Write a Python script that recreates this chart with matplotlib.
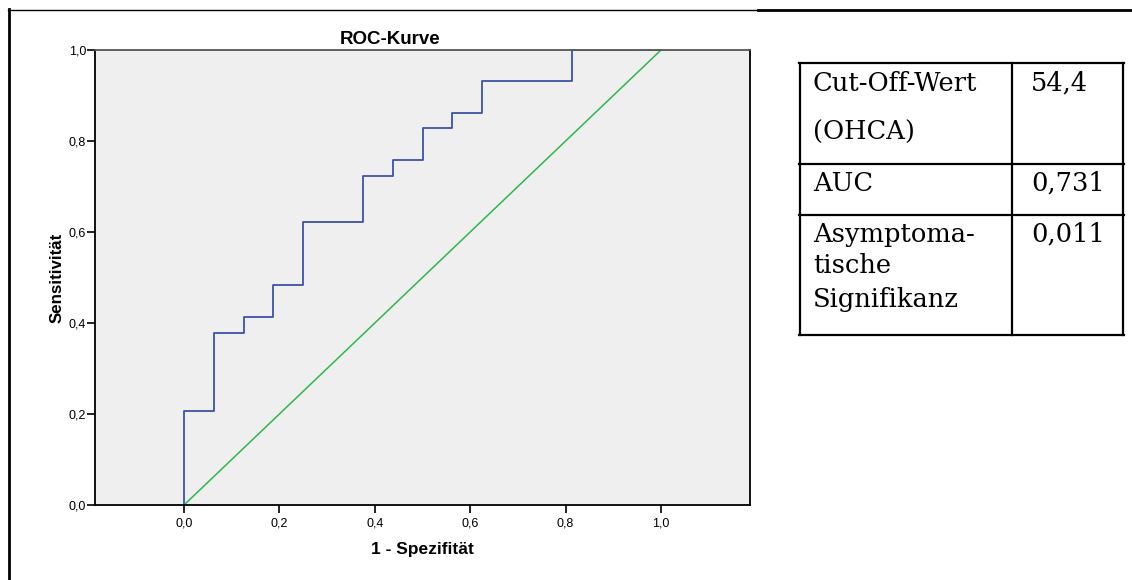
import matplotlib
matplotlib.use("Agg")
import matplotlib.pyplot as plt
from matplotlib.lines import Line2D

# ---- data ----
fpr = [0.0, 0.0, 0.0625, 0.125, 0.1875, 0.25, 0.375, 0.4375, 0.5, 0.5625, 0.625, 0.8125, 1.0]
tpr = [0.0, 0.207, 0.379, 0.414, 0.483, 0.621, 0.724, 0.759, 0.828, 0.862, 0.931, 1.0, 1.0]
ref_x = [0.0, 1.0]
ref_y = [0.0, 1.0]
tick_vals = [0.0, 0.2, 0.4, 0.6, 0.8, 1.0]
tick_labels = ["0,0", "0,2", "0,4", "0,6", "0,8", "1,0"]
title = "ROC-Kurve"
xlabel = "1 - Spezifität"
ylabel = "Sensitivität"
table_labels = [["Cut-Off-Wert", "(OHCA)"], ["AUC"], ["Asymptoma-", "tische", "Signifikanz"]]
table_values = ["54,4", "0,731", "0,011"]

W, H = 1132, 580
fig = plt.figure(figsize=(W / 100, H / 100), dpi=100)
plt.rcParams['font.family'] = ['Liberation Sans', 'DejaVu Sans']

def fx(px):
    return px / W

def fy(py):
    return 1 - py / H

# axes
ax = fig.add_axes([fx(95), fy(505), fx(750) - fx(95), fy(50) - fy(505)])
ax.set_facecolor("#efefef")
ax.plot(fpr, tpr, drawstyle="steps-post", color="#3d52a8", lw=1.3)
ax.plot(ref_x, ref_y, color="#2db84a", lw=1.1)
ax.set_xlim(-0.1866, 1.1866)
ax.set_ylim(0, 1)
ax.set_xticks(tick_vals)
ax.set_xticklabels(tick_labels, fontsize=9)
ax.set_yticks(tick_vals)
ax.set_yticklabels(tick_labels, fontsize=9)
ax.tick_params(axis="x", direction="out", length=6, width=1.2, color="black", pad=3)
ax.tick_params(axis="y", direction="out", length=6, width=1.2, color="black", pad=0.5)
for s in ax.spines.values():
    s.set_linewidth(1.3)
    s.set_color("black")
ax.spines["top"].set_color("#555555")
ax.set_title(title, fontsize=13.5, fontweight="bold", pad=4, x=(390 - 95) / 655)
ax.set_xlabel(xlabel, fontsize=12.5, fontweight="bold", labelpad=9)
ax.set_ylabel(ylabel, fontsize=12.2, fontweight="bold", labelpad=3)

# outer frame lines
fig.add_artist(Line2D([fx(8), fx(758)], [fy(9.5), fy(9.5)], color="black", lw=1.0))
fig.add_artist(Line2D([fx(758), fx(1132)], [fy(10), fy(10)], color="black", lw=2.0))
fig.add_artist(Line2D([fx(9), fx(9)], [fy(9), fy(580)], color="black", lw=2.0))

# table
tl, tm, tr = 800, 1012, 1123
row_y = [62.7, 164, 215, 335]
for y in row_y:
    fig.add_artist(Line2D([fx(tl - 1), fx(tr + 1)], [fy(y), fy(y)], color="black", lw=1.6))
for x in (tl, tm, tr):
    fig.add_artist(Line2D([fx(x), fx(x)], [fy(row_y[0]), fy(row_y[-1])], color="black", lw=1.6))

label_baselines = [[90.7, 140], [191], [241.7, 273, 306.7]]
value_baselines = [90.7, 191, 241.7]
serif = ['DejaVu Serif']
for lines, bases in zip(table_labels, label_baselines):
    for txt, b in zip(lines, bases):
        fig.text(fx(813), fy(b), txt, fontsize=18.5, family=serif, va="baseline", ha="left")
for val, b in zip(table_values, value_baselines):
    fig.text(fx(1031), fy(b), val, fontsize=18.5, family=serif, va="baseline", ha="left")

fig.savefig("out.png", dpi=100)
